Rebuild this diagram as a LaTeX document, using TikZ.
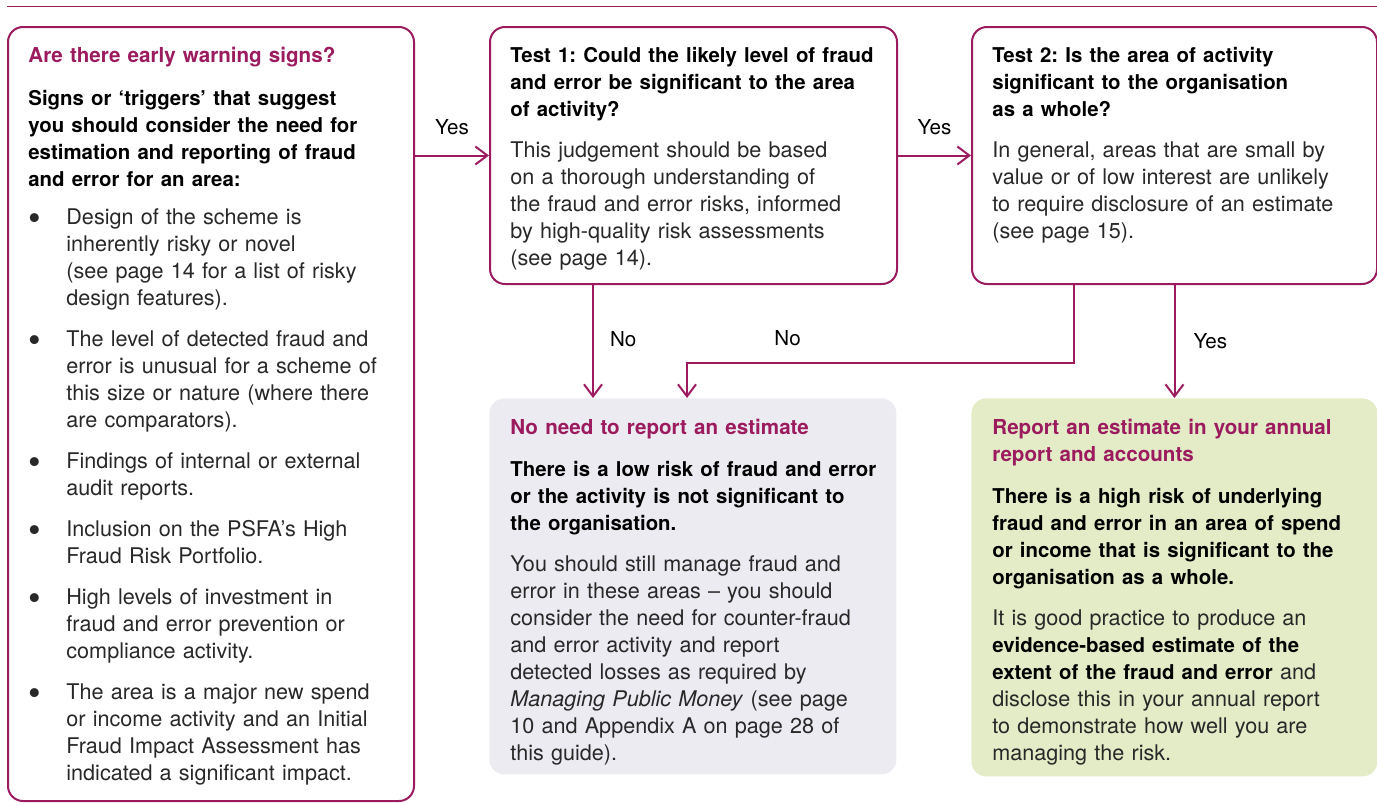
\documentclass[tikz,border=0pt]{standalone}
\usepackage{fontspec}
\setmainfont{TeX Gyre Heros}
\usetikzlibrary{arrows.meta, positioning}

\definecolor{nao}{RGB}{155,27,94}
\definecolor{notefill}{RGB}{236,235,241}
\definecolor{yesfill}{RGB}{227,236,199}
\definecolor{bodytext}{RGB}{40,40,40}

\newcommand{\boxhead}[1]{{\color{nao}\bfseries\fontsize{10.3}{13.5}\selectfont #1}}
\newcommand{\boldpart}[1]{{\color{black}\bfseries\fontsize{10.2}{13.5}\selectfont #1}}
\newcommand{\bitem}{\makebox[19pt][l]{\raisebox{-3pt}{\fontsize{18}{13.5}\selectfont\textbullet}}}
\newcommand{\bcont}{\hspace*{19pt}}

\begin{document}
\frenchspacing
\begin{tikzpicture}[x=0.5pt, y=-0.5pt,
	frame/.style={draw=nao, line width=1pt, rounded corners=7.5pt, anchor=north west, inner sep=0pt},
	panel/.style={rounded corners=7.5pt, anchor=north west, inner sep=0pt},
	txt/.style={anchor=north west, inner sep=0pt, align=left, text width=195pt, text=bodytext, font=\fontsize{10.8}{13.5}\selectfont},
	flow/.style={draw=nao, line width=1pt, -{Straight Barb[length=6pt, width=9pt]}},
	lbl/.style={inner sep=0pt, text=black, font=\fontsize{10.3}{13.5}\selectfont}]
				\useasboundingbox (0,0) rectangle (1377,803);
				\draw[nao, line width=0.5pt] (7,6) -- (1377,6);

				\node[frame, minimum width=203pt, minimum height=387pt] (signs) at (7,26) {};
				\node[frame, minimum width=203.5pt, minimum height=128.5pt] (testone) at (489,26) {};
				\node[frame, minimum width=202.5pt, minimum height=128.5pt] (testtwo) at (971,26) {};
				\node[panel, fill=notefill, minimum width=203.5pt, minimum height=188pt] (noneed) at (489,398) {};
				\node[panel, fill=yesfill, minimum width=203pt, minimum height=189pt] (report) at (971,398) {};

				\node[txt] (signstext) at ([shift={(21,21)}]signs.north west) {
					\boxhead{Are there early warning signs?}\\[8pt]
					\boldpart{Signs or `triggers' that suggest\\you should consider the need for\\estimation and reporting of fraud\\and error for an area:}\\[5.5pt]
					\bitem Design of the scheme is\\
					\bcont inherently risky or novel\\
					\bcont (see page 14 for a list of risky\\
					\bcont design features).\\[7pt]
					\bitem The level of detected fraud and\\
					\bcont error is unusual for a scheme of\\
					\bcont this size or nature (where there\\
					\bcont are comparators).\\[7pt]
					\bitem Findings of internal or external\\
					\bcont audit reports.\\[7pt]
					\bitem Inclusion on the PSFA's High\\
					\bcont Fraud Risk Portfolio.\\[7pt]
					\bitem High levels of investment in\\
					\bcont fraud and error prevention or\\
					\bcont compliance activity.\\[7pt]
					\bitem The area is a major new spend\\
					\bcont or income activity and an Initial\\
					\bcont Fraud Impact Assessment has\\
					\bcont indicated a significant impact.
				};
				\node[txt] (testonetext) at ([shift={(21,21)}]testone.north west) {
					\boldpart{Test 1: Could the likely level of fraud\\and error be significant to the area\\of activity?}\\[7pt]
					This judgement should be based\\on a thorough understanding of\\the fraud and error risks, informed\\by high-quality risk assessments\\(see page 14).
				};
				\node[txt] (testtwotext) at ([shift={(21,21)}]testtwo.north west) {
					\boldpart{Test 2: Is the area of activity\\significant to the organisation\\as a whole?}\\[7pt]
					In general, areas that are small by\\value or of low interest are unlikely\\to require disclosure of an estimate\\(see page 15).
				};
				\node[txt] (noneedtext) at ([shift={(21,21)}]noneed.north west) {
					\boxhead{No need to report an estimate}\\[7.5pt]
					\boldpart{There is a low risk of fraud and error\\or the activity is not significant to\\the organisation.}\\[7pt]
					You should still manage fraud and\\error in these areas -- you should\\consider the need for counter-fraud\\and error activity and report\\detected losses as required by\\\textit{Managing Public Money} (see page\\10 and Appendix A on page 28 of\\this guide).
				};
				\node[txt] (reporttext) at ([shift={(21,21)}]report.north west) {
					\boxhead{Report an estimate in your annual\\report and accounts}\\[7.5pt]
					\boldpart{There is a high risk of underlying\\fraud and error in an area of spend\\or income that is significant to the\\organisation as a whole.}\\[7pt]
					It is good practice to produce an\\\boldpart{evidence-based estimate of the\\extent of the fraud and error} and\\disclose this in your annual report\\to demonstrate how well you are\\managing the risk.
				};

				\coordinate (nobend) at (687,363);
				\draw[flow] (signs.east |- testone.west) -- (testone.west) node[lbl, midway, yshift=14pt] {Yes};
				\draw[flow] (testone.east) -- (testtwo.west) node[lbl, midway, yshift=14pt] {Yes};
				\draw[flow] ([xshift=52pt]testone.south west) -- ([xshift=52pt]noneed.north west) node[lbl, midway, anchor=west, xshift=8pt, yshift=1pt] {No};
				\draw[flow] ([xshift=51.5pt]testtwo.south west) |- (nobend) node[lbl, pos=0.87, yshift=12.5pt] {No} -- (nobend |- noneed.north);
				\draw[flow] (testtwo.south) -- (testtwo.south |- report.north) node[lbl, midway, anchor=west, xshift=9pt] {Yes};
			\end{tikzpicture}
\end{document}
